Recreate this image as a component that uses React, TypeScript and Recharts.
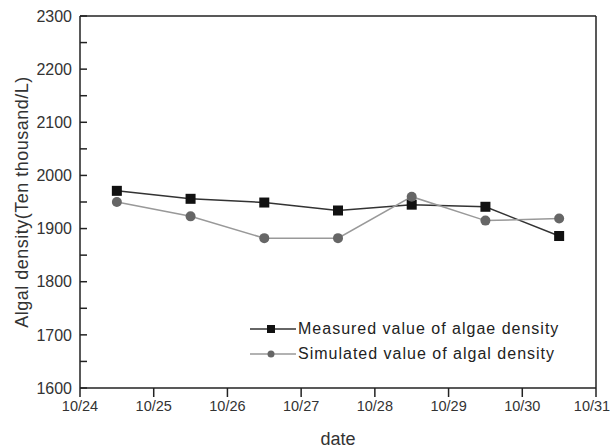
import { LineChart, Line, XAxis, YAxis, ReferenceLine } from 'recharts'

// x positions are day offsets from 10/24 (points sit mid-day)
const dayPos = [0.5, 1.5, 2.5, 3.5, 4.5, 5.5, 6.5]
const measured = [1971, 1956, 1949, 1934, 1945, 1941, 1886]
const simulated = [1950, 1923, 1882, 1882, 1960, 1915, 1919]
const dateLabels = ['10/24', '10/25', '10/26', '10/27', '10/28', '10/29', '10/30', '10/31']
const xMajorTicks = [0, 1, 2, 3, 4, 5, 6, 7]
const xMinorTicks = [0.5, 1.5, 2.5, 3.5, 4.5, 5.5, 6.5]
const yTicks = [1600, 1650, 1700, 1750, 1800, 1850, 1900, 1950, 2000, 2050, 2100, 2150, 2200, 2250, 2300]

const chartData = dayPos.map((d, i) => ({ day: d, measured: measured[i], simulated: simulated[i] }))

const font = '"Liberation Sans", Arial, sans-serif'

// last date label is nudged left so it stays inside the picture
function DateTick({ x, y, payload }: any) {
  const last = payload.value === xMajorTicks[xMajorTicks.length - 1]
  return (
    <text x={x} y={y} dx={last ? -4 : 0} dy={12} textAnchor="middle" fill="#333" fontSize={14.5} fontFamily={font}>
      {dateLabels[payload.value]}
    </text>
  )
}

function LegendBox() {
  const rows = [
    { name: 'Measured value of algae density', stroke: '#333', marker: 'square' },
    { name: 'Simulated value of algal density', stroke: '#999', marker: 'circle' },
  ]
  return (
    <div style={{ position: 'absolute', left: 250, top: 316, fontFamily: font, fontSize: 16, letterSpacing: 1, color: '#222' }}>
      {rows.map(r => (
        <div key={r.name} style={{ display: 'flex', alignItems: 'center', height: 25 }}>
          <svg width={46} height={12} style={{ marginRight: 2 }}>
            <line x1={0} y1={6} x2={46} y2={6} stroke={r.stroke} strokeWidth={1.5} />
            {r.marker === 'square'
              ? <rect x={17} y={2} width={8} height={8} fill="#111" />
              : <circle cx={21} cy={6} r={3.5} fill="#666" />}
          </svg>
          <span>{r.name}</span>
        </div>
      ))}
    </div>
  )
}

export default function App() {
  return (
    <div style={{ position: 'fixed', top: 0, left: 0, width: 611, height: 448, background: '#fff' }}>
      <LineChart width={611} height={448} data={chartData} margin={{ top: 16, right: 15, left: 0, bottom: 0 }}>
        <XAxis
          dataKey="day"
          type="number"
          domain={[0, 7]}
          ticks={xMajorTicks}
          interval={0}
          height={60}
          stroke="#222"
          strokeWidth={1.5}
          tickSize={9}
          tickMargin={2}
          tick={<DateTick />}
          label={{ value: 'date', position: 'insideBottom', offset: 3, fill: '#333', fontSize: 18, fontFamily: font }}
        />
        <XAxis
          xAxisId="minor"
          dataKey="day"
          type="number"
          domain={[0, 7]}
          ticks={xMinorTicks}
          interval={0}
          height={0}
          axisLine={false}
          stroke="#222"
          strokeWidth={1.5}
          tickSize={6}
          tick={false}
        />
        <YAxis
          type="number"
          domain={[1600, 2300]}
          ticks={yTicks}
          interval={0}
          width={80}
          stroke="#222"
          strokeWidth={1.5}
          tickSize={-7}
          tickMargin={15}
          tick={{ fill: '#333', fontSize: 16, fontFamily: font }}
          tickFormatter={(v: number) => (v % 100 === 0 ? String(v) : '')}
          label={{ value: 'Algal density(Ten thousand/L)', angle: -90, position: 'insideLeft', offset: 22, style: { textAnchor: 'middle', letterSpacing: 0.5 }, fill: '#333', fontSize: 18, fontFamily: font }}
        />
        <ReferenceLine y={2300} stroke="#222" strokeWidth={1.5} />
        <ReferenceLine x={7} stroke="#222" strokeWidth={1.5} />
        <Line
          dataKey="measured"
          stroke="#333"
          strokeWidth={1.5}
          isAnimationActive={false}
          dot={(p: any) => <rect key={p.index} x={p.cx - 5} y={p.cy - 5} width={10} height={10} fill="#111" />}
        />
        <Line
          dataKey="simulated"
          stroke="#999"
          strokeWidth={1.5}
          isAnimationActive={false}
          dot={{ r: 5, fill: '#666', stroke: '#666', strokeWidth: 0 }}
        />
      </LineChart>
      <LegendBox />
    </div>
  )
}
